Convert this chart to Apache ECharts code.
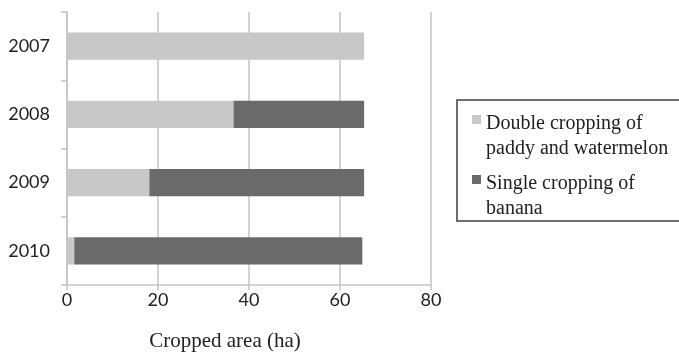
<!DOCTYPE html>
<html>
<head>
<meta charset="utf-8">
<script src="https://cdn.jsdelivr.net/npm/echarts@6/dist/echarts.min.js"></script>
<style>html,body{margin:0;padding:0;background:#fff;}#c{width:679px;height:352px;}</style>
</head>
<body>
<div id="c"></div>
<script>
const categories = ['2007', '2008', '2009', '2010'];
const seriesNames = ['Double cropping of paddy and watermelon', 'Single cropping of banana'];
const legendLines = [['Double cropping of', 'paddy and watermelon'], ['Single cropping of', 'banana']];
const paddyWatermelon = [65.3, 36.6, 18.1, 1.6];
const banana = [0, 28.7, 47.2, 63.3];
const xTicks = [0, 20, 40, 60, 80];
const xTitle = 'Cropped area (ha)';

const chart = echarts.init(document.getElementById('c'), null, {renderer: 'canvas'});
const gridColor = '#c3c3c3';
const serif = 'Liberation Serif';
chart.setOption({
  animation: false,
  backgroundColor: '#ffffff',
  grid: {left: 67, right: 248, top: 12, bottom: 67, containLabel: false, outerBoundsMode: 'none'},
  xAxis: {
    type: 'value',
    min: xTicks[0], max: xTicks[xTicks.length - 1], interval: xTicks[1] - xTicks[0],
    axisLine: {show: true, lineStyle: {color: gridColor, width: 1.5}},
    axisTick: {show: true, length: 5, lineStyle: {color: gridColor, width: 1.5}},
    splitLine: {show: true, lineStyle: {color: gridColor, width: 1.5}},
    axisLabel: {color: '#222', fontFamily: 'Lato', fontSize: 18, margin: 6},
    name: xTitle,
    nameLocation: 'middle',
    nameGap: 46,
    nameTextStyle: {color: '#222', fontFamily: serif, fontSize: 21, padding: [0, 48, 0, 0]}
  },
  yAxis: {
    type: 'category',
    inverse: true,
    data: categories,
    axisLine: {show: true, lineStyle: {color: gridColor, width: 1.5}},
    axisTick: {show: true, length: 6, lineStyle: {color: gridColor, width: 1.5}},
    axisLabel: {color: '#222', fontFamily: 'Lato', fontSize: 18, margin: 17}
  },
  legend: {
    orient: 'vertical',
    left: 472,
    top: 89.5,
    padding: 0,
    itemGap: -9,
    itemWidth: 9,
    itemHeight: 9,
    icon: 'rect',
    data: seriesNames,
    formatter: function (name) {
      const l = legendLines[seriesNames.indexOf(name)];
      return '{e| }\n{t|' + l[0] + '}\n{t|' + l[1] + '}';
    },
    textStyle: {
      color: '#222', fontFamily: serif, fontSize: 20,
      rich: {
        e: {fontSize: 10, lineHeight: 33, fontFamily: serif},
        t: {fontSize: 20, lineHeight: 25, fontFamily: serif, color: '#222'}
      }
    }
  },
  graphic: [{
    type: 'rect',
    shape: {x: 457, y: 100, width: 260, height: 121},
    style: {fill: 'none', stroke: '#6e6e6e', lineWidth: 2},
    silent: true
  }],
  series: [
    {
      name: seriesNames[0], type: 'bar', stack: 'total', barWidth: '40%',
      itemStyle: {color: '#c8c8c8'},
      data: paddyWatermelon
    },
    {
      name: seriesNames[1], type: 'bar', stack: 'total', barWidth: '40%',
      itemStyle: {color: '#6a6a6a'},
      data: banana
    }
  ]
});
</script>
</body>
</html>
